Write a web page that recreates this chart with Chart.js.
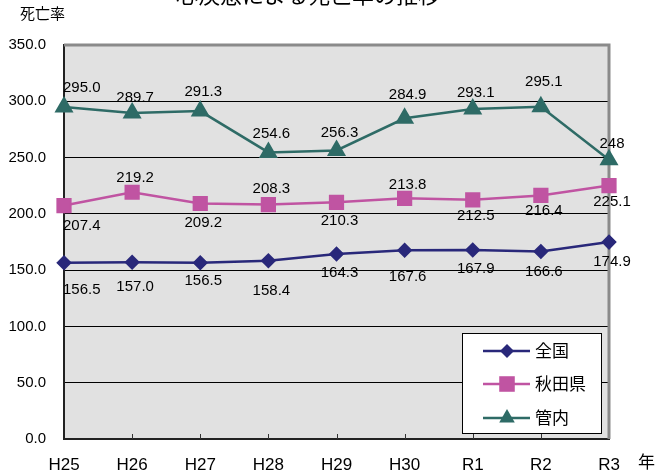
<!DOCTYPE html>
<html lang="ja">
<head>
<meta charset="utf-8">
<title>死亡率の推移</title>
<script src="https://cdn.jsdelivr.net/npm/chart.js@4.4.0/dist/chart.umd.min.js"></script>
<style>
  html, body { margin: 0; padding: 0; background: #fff; }
  #wrap { width: 658px; height: 474px; }
</style>
</head>
<body>
<div id="wrap"><canvas id="chart" width="658" height="474"></canvas></div>
<script>
// values as printed on the chart (strings keep "157.0" and "248" as shown)
const years = ['H25', 'H26', 'H27', 'H28', 'H29', 'H30', 'R1', 'R2', 'R3'];
const zenkoku = ['156.5', '157.0', '156.5', '158.4', '164.3', '167.6', '167.9', '166.6', '174.9'];
const akita = ['207.4', '219.2', '209.2', '208.3', '210.3', '213.8', '212.5', '216.4', '225.1'];
const kannai = ['295.0', '289.7', '291.3', '254.6', '256.3', '284.9', '293.1', '295.1', '248'];
const yMin = 0, yMax = 350, yStep = 50;

// label offsets (px from marker, vertical) — layout only
const zenkokuDy = [27, 25, 18, 30, 19, 27, 19, 20, 20];
const akitaDy = [20, -14, 19, -16, 19, -13, 16, 15, 16];
const kannaiDy = [-19, -15, -19, -19, -18, -23, -16, -25, -16];

const FONT = '"Liberation Sans", "Noto Sans CJK JP", sans-serif';

function drawMarker(ctx, style, x, y, r) {
  ctx.beginPath();
  if (style === 'rectRot') {
    ctx.moveTo(x, y - r); ctx.lineTo(x + r, y); ctx.lineTo(x, y + r); ctx.lineTo(x - r, y);
  } else if (style === 'rect') {
    const s = r * Math.SQRT1_2;
    ctx.rect(x - s, y - s, s * 2, s * 2);
  } else {
    ctx.moveTo(x, y - r);
    ctx.lineTo(x + r * Math.sin(Math.PI / 3), y + r / 2);
    ctx.lineTo(x - r * Math.sin(Math.PI / 3), y + r / 2);
  }
  ctx.closePath();
  ctx.fill();
}

// plot background and grey frame (top / right)
const frame = {
  id: 'frame',
  beforeDraw(chart) {
    const { ctx, chartArea: a } = chart;
    ctx.save();
    ctx.fillStyle = '#e1e1e1';
    ctx.fillRect(a.left, a.top, a.right - a.left, a.bottom - a.top);
    ctx.restore();
  },
  beforeDatasetsDraw(chart) {
    const { ctx, chartArea: a, scales } = chart;
    ctx.save();
    ctx.strokeStyle = '#8a8a8a';
    ctx.lineWidth = 3;
    ctx.beginPath();
    ctx.moveTo(a.left, a.top);
    ctx.lineTo(a.right, a.top);
    ctx.lineTo(a.right, a.bottom);
    ctx.stroke();
    // inner tick marks on the category axis
    ctx.strokeStyle = '#333';
    ctx.lineWidth = 1;
    const x = scales.x;
    for (let i = 1; i < years.length - 1; i++) {
      const px = Math.round(x.getPixelForTick(i)) + 0.5;
      ctx.beginPath();
      ctx.moveTo(px, a.bottom - 5);
      ctx.lineTo(px, a.bottom);
      ctx.stroke();
    }
    ctx.restore();
  }
};

// value labels, legend box and the extra texts
const extras = {
  id: 'extras',
  afterDatasetsDraw(chart) {
    const { ctx, chartArea: a } = chart;
    ctx.save();
    ctx.font = '15px ' + FONT;
    ctx.fillStyle = '#000';
    ctx.textAlign = 'center';
    ctx.textBaseline = 'middle';
    chart.data.datasets.forEach((ds, i) => {
      const meta = chart.getDatasetMeta(i);
      meta.data.forEach((pt, j) => {
        const text = String(ds.data[j]);
        const w = ctx.measureText(text).width;
        let x = pt.x + 3;
        if (x - w / 2 < a.left - 1) x = a.left - 1 + w / 2;
        ctx.fillText(text, x, pt.y + ds.labelDy[j]);
      });
    });
    ctx.restore();
  },
  afterDraw(chart) {
    const { ctx, chartArea: a } = chart;
    ctx.save();
    // legend
    const bw = 139, bh = 100;
    const bx = a.right - 8 - bw, by = a.bottom - 6 - bh;
    ctx.fillStyle = '#fff';
    ctx.fillRect(bx, by, bw, bh);
    ctx.strokeStyle = '#000';
    ctx.lineWidth = 1;
    ctx.strokeRect(bx + 0.5, by + 0.5, bw, bh);
    const rows = [18, 51, 85];
    chart.data.datasets.forEach((ds, i) => {
      const y = by + rows[i];
      ctx.strokeStyle = ds.borderColor;
      ctx.lineWidth = 2.5;
      ctx.beginPath();
      ctx.moveTo(bx + 21, y);
      ctx.lineTo(bx + 68, y);
      ctx.stroke();
      ctx.fillStyle = ds.backgroundColor;
      drawMarker(ctx, ds.pointStyle, bx + 45, y, ds.legendRadius);
      ctx.fillStyle = '#000';
      ctx.font = '17px ' + FONT;
      ctx.textAlign = 'left';
      ctx.textBaseline = 'middle';
      ctx.fillText(ds.label, bx + 73, y + 1);
    });
    // axis captions
    ctx.fillStyle = '#000';
    ctx.font = '15px ' + FONT;
    ctx.textAlign = 'left';
    ctx.textBaseline = 'middle';
    ctx.fillText('死亡率', 20, 15);
    ctx.font = '17px ' + FONT;
    ctx.fillText('年', 638, 463);
    // title, cut off by the top edge
    ctx.font = '22px "Noto Sans CJK JP", sans-serif';
    ctx.textAlign = 'center';
    ctx.textBaseline = 'alphabetic';
    ctx.fillText('心疾患による死亡率の推移', 308, 3);
    ctx.restore();
  }
};

new Chart(document.getElementById('chart'), {
  type: 'line',
  data: {
    labels: years,
    datasets: [
      {
        label: '全国',
        data: zenkoku,
        labelDy: zenkokuDy,
        borderColor: '#29287a',
        backgroundColor: '#29287a',
        pointStyle: 'rectRot',
        pointRadius: 6,
        legendRadius: 7,
        borderWidth: 2.5
      },
      {
        label: '秋田県',
        data: akita,
        labelDy: akitaDy,
        borderColor: '#c054a2',
        backgroundColor: '#c054a2',
        pointStyle: 'rect',
        pointRadius: 9,
        legendRadius: 11,
        borderWidth: 2.5
      },
      {
        label: '管内',
        data: kannai,
        labelDy: kannaiDy,
        borderColor: '#2e6b66',
        backgroundColor: '#2e6b66',
        pointStyle: 'triangle',
        pointRadius: 8.5,
        legendRadius: 9,
        borderWidth: 2.5
      }
    ]
  },
  options: {
    responsive: false,
    animation: false,
    devicePixelRatio: 1,
    layout: { padding: { top: 45, right: 49, left: 0, bottom: 0 } },
    elements: {
      line: { tension: 0 },
      point: { borderWidth: 0, hoverRadius: 8 }
    },
    plugins: {
      legend: { display: false },
      tooltip: { enabled: false }
    },
    scales: {
      x: {
        type: 'category',
        offset: false,
        grid: { display: false, drawTicks: false },
        border: { display: true, color: '#222', width: 2 },
        ticks: {
          color: '#000',
          font: { family: FONT, size: 17 },
          padding: 16,
          maxRotation: 0,
          autoSkip: false
        },
        afterFit(scale) { scale.height = 35; }
      },
      y: {
        min: yMin,
        max: yMax,
        grid: { color: '#000', lineWidth: 1, drawTicks: false },
        border: { display: true, color: '#222', width: 2 },
        ticks: {
          stepSize: yStep,
          color: '#000',
          font: { family: FONT, size: 15 },
          padding: 18,
          callback: v => Number(v).toFixed(1)
        },
        afterFit(scale) { scale.width = 64; }
      }
    }
  },
  plugins: [frame, extras]
});
</script>
</body>
</html>
